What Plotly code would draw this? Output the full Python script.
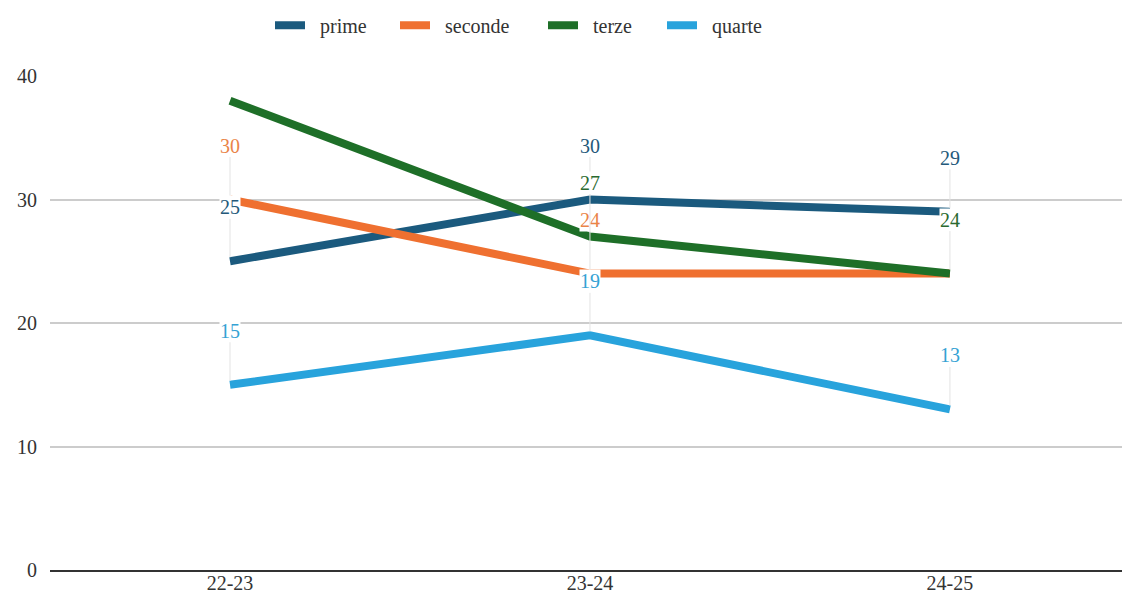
import plotly.graph_objects as go

categories = ["22-23", "23-24", "24-25"]
prime = [25, 30, 29]
seconde = [30, 24, 24]
terze = [38, 27, 24]
quarte = [15, 19, 13]
y_ticks = [0, 10, 20, 30, 40]

series = [
    ("prime", prime, "#1b5a7e", "#24597a", [True, True, True]),
    ("seconde", seconde, "#ef7030", "#ea8448", [True, True, False]),
    ("terze", terze, "#1e6f28", "#2a6a30", [False, True, True]),
    ("quarte", quarte, "#28a3dc", "#34a2d4", [True, True, True]),
]
# page-x of each legend entry's left edge
legend_x = [270, 395, 543, 662]

FONT = "Times New Roman, Liberation Serif, serif"
NB = "\u00a0"
W, H = 1122, 603
fig = go.Figure()
annotations = []
legends = {}
for i, (name, vals, color, lcolor, show) in enumerate(series):
    lname = "legend" if i == 0 else f"legend{i + 1}"
    fig.add_trace(go.Scatter(
        x=categories, y=vals, name=NB * 2 + name, mode="lines",
        line=dict(color=color, width=8), legend=lname,
    ))
    legends[lname] = dict(orientation="h", xref="container", yref="container",
                          x=legend_x[i] / W, xanchor="left", y=0.958, yanchor="middle",
                          font=dict(family=FONT, size=20, color="#333333"),
                          itemwidth=30, bgcolor="rgba(0,0,0,0)")
    for c, v, s in zip(categories, vals, show):
        if not s:
            continue
        annotations.append(dict(
            x=c, y=v, xref="x", yref="y", text=str(v),
            showarrow=True, arrowhead=0, arrowwidth=1, arrowcolor="#e3e3e3",
            ax=0, ay=-54, standoff=4,
            font=dict(family=FONT, size=20, color=lcolor),
            bgcolor="white", borderpad=0,
        ))

fig.update_layout(
    width=W, height=H,
    margin=dict(l=50, r=0, t=76, b=33),
    paper_bgcolor="white", plot_bgcolor="white",
    font=dict(family=FONT, size=18, color="#333333"),
    showlegend=True,
    annotations=annotations,
    xaxis=dict(range=[-0.5, 2.478], showgrid=False, showline=True, linecolor="#333333",
               linewidth=2, zeroline=False, ticklabelstandoff=-6,
               tickfont=dict(family=FONT, size=20, color="#333333")),
    yaxis=dict(range=[0, 40], tickvals=y_ticks, showgrid=True, gridcolor="#cccccc",
               gridwidth=1.5, zeroline=False, showline=False, ticklabelstandoff=12,
               tickfont=dict(family=FONT, size=20, color="#333333")),
    **legends,
)

fig.write_html("out.html", config={"displayModeBar": False},
               post_script="document.body.style.margin='0';document.body.style.overflow='hidden';")
